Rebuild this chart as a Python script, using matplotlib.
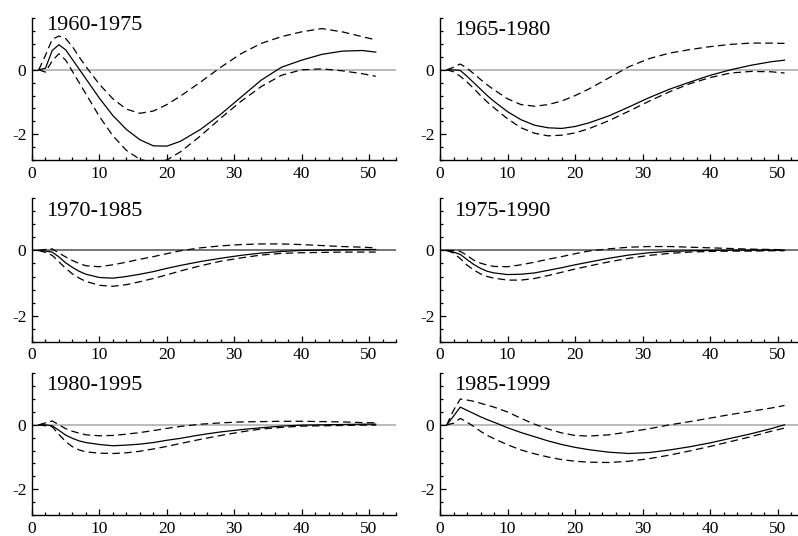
import matplotlib
matplotlib.use("Agg")
import matplotlib.pyplot as plt
from matplotlib.ticker import MultipleLocator

plt.rcParams['font.family'] = ['Liberation Serif', 'DejaVu Serif']
plt.rcParams['axes.unicode_minus'] = False

# horizonte (periodos) comun a todos los paneles
x = [1, 2, 3, 4, 5, 6, 7, 8, 10, 12, 14, 16, 18, 20, 22, 25, 28, 31, 34, 37, 40, 43, 46, 49, 51]

titulos = ["1960-1975", "1965-1980", "1970-1985", "1975-1990", "1980-1995", "1985-1999"]

# 1960-1975
p1_mid = [0, 0.05, 0.6, 0.78, 0.62, 0.32, 0.02, -0.28, -0.88, -1.42, -1.85, -2.17, -2.36, -2.37, -2.22,
          -1.85, -1.38, -0.85, -0.32, 0.08, 0.3, 0.48, 0.58, 0.6, 0.55]
p1_hi = [0, 0.45, 0.95, 1.05, 0.97, 0.72, 0.4, 0.1, -0.45, -0.9, -1.22, -1.35, -1.28, -1.08, -0.82,
         -0.38, 0.08, 0.5, 0.82, 1.03, 1.18, 1.28, 1.18, 1.03, 0.93]
p1_lo = [0, -0.07, 0.28, 0.5, 0.3, -0.05, -0.4, -0.75, -1.45, -2.05, -2.5, -2.78, -2.88, -2.8, -2.55,
         -2.05, -1.5, -0.98, -0.52, -0.17, 0.0, 0.03, -0.03, -0.12, -0.2]

# 1965-1980
p2_mid = [0, 0.0, -0.02, -0.2, -0.4, -0.6, -0.8, -0.98, -1.3, -1.55, -1.72, -1.8, -1.82, -1.76, -1.65,
          -1.43, -1.15, -0.86, -0.6, -0.38, -0.17, 0.0, 0.14, 0.25, 0.3]
p2_hi = [0, 0.08, 0.18, 0.05, -0.12, -0.3, -0.47, -0.62, -0.9, -1.08, -1.13, -1.08, -0.97, -0.8, -0.6,
         -0.25, 0.1, 0.35, 0.52, 0.63, 0.72, 0.79, 0.83, 0.83, 0.82]
p2_lo = [0, -0.06, -0.2, -0.38, -0.58, -0.8, -1.0, -1.18, -1.52, -1.8, -1.97, -2.05, -2.03, -1.96, -1.83,
         -1.58, -1.28, -0.97, -0.68, -0.43, -0.24, -0.1, -0.05, -0.06, -0.1]

# 1970-1985
p3_mid = [0, -0.02, -0.05, -0.2, -0.38, -0.52, -0.64, -0.73, -0.83, -0.85, -0.8, -0.73, -0.65, -0.55, -0.46,
          -0.34, -0.24, -0.15, -0.08, -0.03, 0.0, 0.01, 0.02, 0.03, 0.03]
p3_hi = [0, 0.03, 0.05, -0.08, -0.2, -0.31, -0.4, -0.47, -0.5, -0.44, -0.36, -0.27, -0.19, -0.1, -0.01,
         0.08, 0.14, 0.18, 0.2, 0.2, 0.18, 0.15, 0.12, 0.1, 0.08]
p3_lo = [0, -0.06, -0.15, -0.35, -0.55, -0.72, -0.85, -0.95, -1.07, -1.1, -1.05, -0.96, -0.86, -0.75, -0.63,
         -0.47, -0.33, -0.23, -0.14, -0.09, -0.07, -0.06, -0.05, -0.05, -0.05]

# 1975-1990
p4_mid = [0, -0.05, -0.12, -0.28, -0.43, -0.55, -0.64, -0.69, -0.74, -0.73, -0.69, -0.61, -0.53, -0.44, -0.36,
          -0.24, -0.14, -0.07, -0.03, -0.01, 0.0, 0.01, 0.01, 0.01, 0.01]
p4_hi = [0, 0.0, -0.03, -0.15, -0.3, -0.39, -0.45, -0.49, -0.5, -0.44, -0.36, -0.27, -0.19, -0.1, -0.02,
         0.05, 0.1, 0.12, 0.12, 0.1, 0.08, 0.06, 0.04, 0.03, 0.02]
p4_lo = [0, -0.08, -0.25, -0.45, -0.6, -0.72, -0.8, -0.85, -0.91, -0.91, -0.86, -0.77, -0.67, -0.57, -0.48,
         -0.35, -0.24, -0.15, -0.09, -0.05, -0.03, -0.02, -0.02, -0.01, -0.01]

# 1980-1995
p5_mid = [0, 0.0, -0.03, -0.17, -0.32, -0.42, -0.5, -0.55, -0.61, -0.65, -0.63, -0.6, -0.55, -0.48, -0.42,
          -0.31, -0.22, -0.15, -0.09, -0.04, -0.01, 0.0, 0.01, 0.02, 0.02]
p5_hi = [0, 0.06, 0.12, 0.0, -0.12, -0.2, -0.26, -0.31, -0.34, -0.33, -0.29, -0.24, -0.18, -0.11, -0.05,
         0.02, 0.06, 0.09, 0.1, 0.11, 0.11, 0.1, 0.09, 0.07, 0.06]
p5_lo = [0, -0.03, -0.06, -0.3, -0.52, -0.68, -0.78, -0.84, -0.88, -0.89, -0.87, -0.82, -0.75, -0.67, -0.58,
         -0.45, -0.33, -0.22, -0.13, -0.08, -0.04, -0.03, -0.02, -0.01, -0.01]

# 1985-1999
p6_mid = [0, 0.27, 0.55, 0.45, 0.35, 0.25, 0.16, 0.08, -0.09, -0.24, -0.37, -0.5, -0.61, -0.7, -0.77,
          -0.85, -0.89, -0.86, -0.78, -0.68, -0.56, -0.42, -0.28, -0.12, 0.0]
p6_hi = [0, 0.45, 0.8, 0.77, 0.73, 0.67, 0.61, 0.55, 0.4, 0.2, 0.02, -0.13, -0.25, -0.33, -0.35,
         -0.31, -0.22, -0.12, 0.0, 0.1, 0.21, 0.32, 0.42, 0.52, 0.6]
p6_lo = [0, 0.05, 0.2, 0.08, -0.05, -0.2, -0.33, -0.43, -0.62, -0.78, -0.9, -1.0, -1.08, -1.13, -1.16,
         -1.17, -1.13, -1.05, -0.94, -0.81, -0.67, -0.52, -0.37, -0.2, -0.1]

paneles = [(p1_mid, p1_hi, p1_lo), (p2_mid, p2_hi, p2_lo), (p3_mid, p3_hi, p3_lo),
           (p4_mid, p4_hi, p4_lo), (p5_mid, p5_hi, p5_lo), (p6_mid, p6_hi, p6_lo)]

fig = plt.figure(figsize=(7.98, 5.36), dpi=100)

# posiciones de los ejes en pixeles (izq, arriba, abajo)
W, H = 798.0, 536.0
cols = [(32, 364, 54), (440, 358, 53)]  # x0, ancho, xmax
filas = [(18.3, 160), (198.3, 341.7), (373.3, 515)]
color_cero = ['#a8a8a8', '#a8a8a8', '#505050', '#505050', '#a8a8a8', '#a8a8a8']
titulo_y = [0.915, 0.88, 0.88, 0.88, 0.88, 0.88]

for i, (mid, hi, lo) in enumerate(paneles):
    fila, col = divmod(i, 2)
    x0, ancho, xmax = cols[col]
    arriba, abajo = filas[fila]
    ax = fig.add_axes([x0 / W, (H - abajo) / H, ancho / W, (abajo - arriba) / H])

    ax.axhline(0, color=color_cero[i], lw=1.1, zorder=1)
    ax.plot(x, mid, color='black', lw=0.9, zorder=3)
    ax.plot(x, hi, color='black', lw=0.9, dashes=(6, 3.5), zorder=2)
    ax.plot(x, lo, color='black', lw=0.9, dashes=(6, 3.5), zorder=2)

    ax.set_xlim(0, xmax)
    ax.set_ylim(-2.8, 1.6)
    ax.xaxis.set_major_locator(MultipleLocator(10))
    ax.xaxis.set_minor_locator(MultipleLocator(2))
    ax.yaxis.set_major_locator(MultipleLocator(2))
    ax.yaxis.set_minor_locator(MultipleLocator(0.4))

    for s in ['top', 'right']:
        ax.spines[s].set_visible(False)
    for s in ['left', 'bottom']:
        ax.spines[s].set_linewidth(1.0)

    ax.tick_params(which='both', direction='in', width=0.9, labelsize=12.5, pad=4)
    ax.tick_params(which='major', length=4.5)
    ax.tick_params(which='minor', length=2.5)

    ax.text(0.04, titulo_y[i], titulos[i], transform=ax.transAxes, fontsize=16,
            ha='left', va='baseline')

fig.savefig("out.png", dpi=100)
